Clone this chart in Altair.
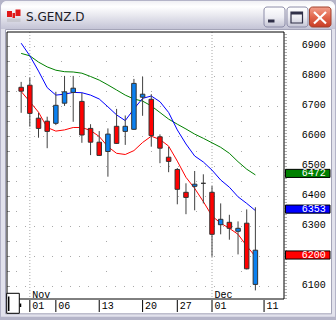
import altair as alt
import pandas as pd

# ---------------- data ----------------
dates = ["2006-10-31", "2006-11-01", "2006-11-02", "2006-11-03", "2006-11-06", "2006-11-07",
         "2006-11-08", "2006-11-09", "2006-11-10", "2006-11-13", "2006-11-14", "2006-11-15",
         "2006-11-16", "2006-11-17", "2006-11-20", "2006-11-21", "2006-11-22", "2006-11-24",
         "2006-11-27", "2006-11-28", "2006-11-29", "2006-11-30", "2006-12-01", "2006-12-04",
         "2006-12-05", "2006-12-06", "2006-12-07", "2006-12-08"]
opens = [6764, 6771, 6661, 6651, 6644, 6711, 6747, 6717, 6627, 6581, 6550, 6634, 6617, 6624,
         6731, 6724, 6599, 6531, 6490, 6414, 6434, 6444, 6414, 6306, 6314, 6284, 6311, 6107]
highs = [6782, 6796, 6679, 6666, 6749, 6802, 6802, 6745, 6641, 6618, 6627, 6692, 6670, 6792,
         6799, 6741, 6607, 6565, 6495, 6444, 6485, 6474, 6435, 6377, 6339, 6317, 6357, 6364]
lows = [6679, 6633, 6596, 6561, 6638, 6702, 6649, 6579, 6538, 6535, 6466, 6575, 6572, 6622,
        6669, 6566, 6511, 6481, 6374, 6341, 6354, 6377, 6199, 6274, 6256, 6207, 6157, 6087]
closes = [6751, 6677, 6627, 6617, 6704, 6749, 6761, 6605, 6581, 6537, 6608, 6577, 6634, 6777,
          6741, 6603, 6561, 6517, 6424, 6397, 6441, 6444, 6274, 6324, 6294, 6294, 6159, 6221]
ma_red = [6750, 6716, 6681, 6630, 6618, 6622, 6630, 6630, 6620, 6600, 6566, 6544, 6540, 6553,
          6580, 6601, 6590, 6568, 6518, 6464, 6427, 6383, 6335, 6311, 6294, 6274, 6235, 6200]
ma_blue = [6911, 6869, 6818, 6763, 6738, 6741, 6747, 6746, 6738, 6725, 6699, 6672, 6653, 6692,
           6727, 6735, 6716, 6680, 6622, 6575, 6535, 6515, 6488, 6455, 6431, 6399, 6377, 6353]
ma_green = [6877, 6869, 6848, 6832, 6821, 6816, 6815, 6811, 6800, 6788, 6772, 6755, 6738, 6725,
            6718, 6702, 6680, 6658, 6641, 6625, 6608, 6594, 6579, 6564, 6544, 6516, 6491, 6472]
price_ticks = [6100, 6200, 6300, 6400, 6500, 6600, 6700, 6800, 6900]
half_ticks = [6150, 6250, 6350, 6450, 6550, 6650, 6750, 6850]
minor_ticks = list(range(6060, 6950, 10))
date_tick_idx = [1, 4, 9, 14, 18, 22, 28]
date_tick_text = ["01", "06", "13", "20", "27", "01", "11"]
month_idx = [1, 22]
month_text = ["Nov", "Dec"]
title_text = "S.GENZ.D"

# ---------------- layout ----------------
PL, PT = 7, 32          # plot origin in window pixels
W, H = 277, 267
xs = alt.Scale(domain=[-1.0556, 29.7222], nice=False, zero=False)
ys = alt.Scale(domain=[6058.33, 6948.33], nice=False, zero=False)
X = lambda f: alt.X(f, scale=xs, axis=None)
Y = lambda f: alt.Y(f, scale=ys, axis=None)
one = pd.DataFrame({"a": [0]})


def box(x1, y1, x2, y2, **kw):
    return alt.Chart(one).mark_rect(**kw).encode(
        x=alt.value(x1 - PL), x2=alt.value(x2 - PL), y=alt.value(y1 - PT), y2=alt.value(y2 - PT))


def seg(x1, y1, x2, y2, **kw):
    return alt.Chart(one).mark_rule(**kw).encode(
        x=alt.value(x1 - PL), x2=alt.value(x2 - PL), y=alt.value(y1 - PT), y2=alt.value(y2 - PT))


def grad(stops):
    return alt.LinearGradient(gradient="linear", x1=0, x2=0, y1=0, y2=1,
                              stops=[alt.GradientStop(color=c, offset=o) for o, c in stops])


btn_fill = grad([(0, "#ffffff"), (0.5, "#eeeef4"), (1, "#c4c4d4")])
close_fill = grad([(0, "#f2a08c"), (0.5, "#e2664c"), (1, "#c83c24")])

chrome = [
    box(0, 0, 336, 320, fill="#b4b4c8", cornerRadiusTopLeft=7, cornerRadiusTopRight=7),
    box(1, 1, 335, 316.7, fill="#e2e2ec", cornerRadiusTopLeft=6, cornerRadiusTopRight=6),
    box(1, 1, 335, 29, fill=grad([(0, "#f0f0f4"), (0.2, "#ffffff"), (0.65, "#dedee8"), (1, "#c4c4d6")]),
        cornerRadiusTopLeft=6, cornerRadiusTopRight=6),
    box(5.5, 29.5, 331.5, 313.8, fill="white", stroke="#a4a4b8", strokeWidth=1),
    # icon
    box(7, 11, 12, 17, fill="#e01818"),
    box(12.5, 13, 15, 18, fill="#e01818"),
    box(15.5, 9.5, 20.5, 16, fill="#e01818"),
    box(7, 18.5, 20.5, 22, fill="#c8c8d0"),
    alt.Chart(one).mark_text(text=title_text, align="left", baseline="alphabetic",
                             font="DejaVu Sans", fontSize=12, color="#1c1c28").encode(
        x=alt.value(26 - PL), y=alt.value(20.7 - PT)),
    # caption buttons
    box(264, 7, 285, 27, fill=btn_fill, stroke="#8c8ca8", strokeWidth=1, cornerRadius=3),
    box(268, 19.5, 274.5, 22.5, fill="#303048"),
    box(287, 7, 308, 27, fill=btn_fill, stroke="#8c8ca8", strokeWidth=1, cornerRadius=3),
    box(291, 12, 302.5, 23, fill="none", stroke="#303048", strokeWidth=1.2),
    box(291, 12, 302.5, 14.5, fill="#303048"),
    box(309.5, 7, 331, 27, fill=close_fill, stroke="#a0402c", strokeWidth=1, cornerRadius=3),
    seg(314, 12, 326, 23.5, color="white", strokeWidth=2.2),
    seg(326, 12, 314, 23.5, color="white", strokeWidth=2.2),
]

# ---------------- plot ----------------
cdf = pd.DataFrame({"date": dates, "open": opens, "high": highs, "low": lows, "close": closes})
cdf["i"] = range(len(cdf))
cdf["col"] = ["#0a80f0" if c > o else ("#ff0000" if c < o else "#333333") for o, c in zip(opens, closes)]

plot_bg = box(PL, PT, PL + W, PT + H, fill="white")

grid100 = alt.Chart(pd.DataFrame({"v": price_ticks})).mark_rule(
    color="#a8a8a8", strokeDash=[1, 8]).encode(y=Y("v:Q"), x=alt.value(0), x2=alt.value(W))
grid50 = alt.Chart(pd.DataFrame({"v": half_ticks})).mark_rule(
    color="#a8a8a8", strokeDash=[1, 44]).encode(y=Y("v:Q"), x=alt.value(9), x2=alt.value(W))
left_ticks = alt.Chart(pd.DataFrame({"v": price_ticks + half_ticks})).mark_rule(
    color="#a0a0a0").encode(y=Y("v:Q"), x=alt.value(0), x2=alt.value(3))
right_ticks = alt.Chart(pd.DataFrame({"v": minor_ticks})).mark_rule(
    color="#b0b0b0").encode(y=Y("v:Q"), x=alt.value(W + 0.5), x2=alt.value(W + 3))
price_labels = alt.Chart(pd.DataFrame({"v": price_ticks})).mark_text(
    align="left", baseline="middle", dy=-1.5, font="Liberation Mono", fontSize=10,
    color="black").encode(y=Y("v:Q"), x=alt.value(301.7 - PL), text=alt.Text("v:Q", format="d"))
month_lines = alt.Chart(pd.DataFrame({"i": month_idx})).mark_rule(
    color="#a8a8a8", strokeDash=[1, 2]).encode(x=X("i:Q"), y=alt.value(0), y2=alt.value(H))

idx = list(range(len(dates)))
lines = [
    alt.Chart(pd.DataFrame({"i": idx, "v": vals})).mark_line(color=c, strokeWidth=1).encode(
        x=X("i:Q"), y=Y("v:Q"))
    for vals, c in [(ma_green, "#008000"), (ma_blue, "#0000ff"), (ma_red, "#ff0000")]
]

wicks = alt.Chart(cdf).mark_rule(color="#404040", strokeWidth=1).encode(
    x=X("i:Q"), y=Y("low:Q"), y2="high:Q")
bodies = alt.Chart(cdf).mark_bar(size=4.5, stroke="#333333", strokeWidth=1, orient="vertical").encode(
    x=X("i:Q"), y=Y("open:Q"), y2="close:Q", fill=alt.Fill("col:N", scale=None))

border = box(PL, PT, PL + W, PT + H, fill="none", stroke="black", strokeWidth=1)

# value boxes on the right (drawn over the price labels, as in the reference)
vdf = pd.DataFrame({"v": [ma_green[-1], ma_blue[-1], ma_red[-1]],
                    "col": ["#008000", "#0000ff", "#ff0000"]})
vbox = alt.Chart(vdf).transform_calculate(
    top="datum.v + 18.5", bot="datum.v - 8.5").mark_rect(stroke="black", strokeWidth=1).encode(
    x=alt.value(285.5 - PL), x2=alt.value(330 - PL), y=Y("top:Q"), y2="bot:Q",
    fill=alt.Fill("col:N", scale=None))
vtext = alt.Chart(vdf).transform_calculate(mid="datum.v + 5").mark_text(
    align="left", baseline="middle", font="Liberation Mono", fontSize=10, color="white").encode(
    x=alt.value(301.7 - PL), y=Y("mid:Q"), text=alt.Text("v:Q", format="d"))

# date axis
tdf = pd.DataFrame({"i": date_tick_idx, "t": date_tick_text})
seps = alt.Chart(tdf).mark_rule(color="black").encode(
    x=X("i:Q"), y=alt.value(H + 1), y2=alt.value(H + 13))
dlabels = alt.Chart(tdf).mark_text(align="left", baseline="alphabetic", dx=2.5,
                                   font="Liberation Mono", fontSize=10, color="black").encode(
    x=X("i:Q"), y=alt.value(H + 10), text="t:N")
mdf = pd.DataFrame({"i": month_idx, "t": month_text})
mlabels = alt.Chart(mdf).mark_text(align="left", baseline="alphabetic", dx=2.5,
                                   font="Liberation Mono", fontSize=10, color="black").encode(
    x=X("i:Q"), y=alt.value(H - 1), text="t:N")
scroll_box = box(6.7, 293.3, 19.3, 313.3, fill="white", stroke="black", strokeWidth=1)
scroll_bar = seg(8.7, 296.5, 8.7, 311, color="black", strokeWidth=1.5)
stub = seg(20.5, 303.5, 20.5, 307, color="black", strokeWidth=1.5)

chart = alt.layer(
    *chrome, plot_bg, grid100, grid50, left_ticks, right_ticks, price_labels, month_lines,
    *lines, wicks, bodies, border, vbox, vtext, seps, dlabels, mlabels,
    scroll_box, scroll_bar, stub,
).properties(
    width=W, height=H, autosize="none", background="#b4b4c8",
    padding={"left": PL, "top": PT, "right": 336 - PL - W, "bottom": 320 - PT - H},
).configure_view(strokeWidth=0)

chart.save("out.html", embed_options={"renderer": "svg", "actions": False})
